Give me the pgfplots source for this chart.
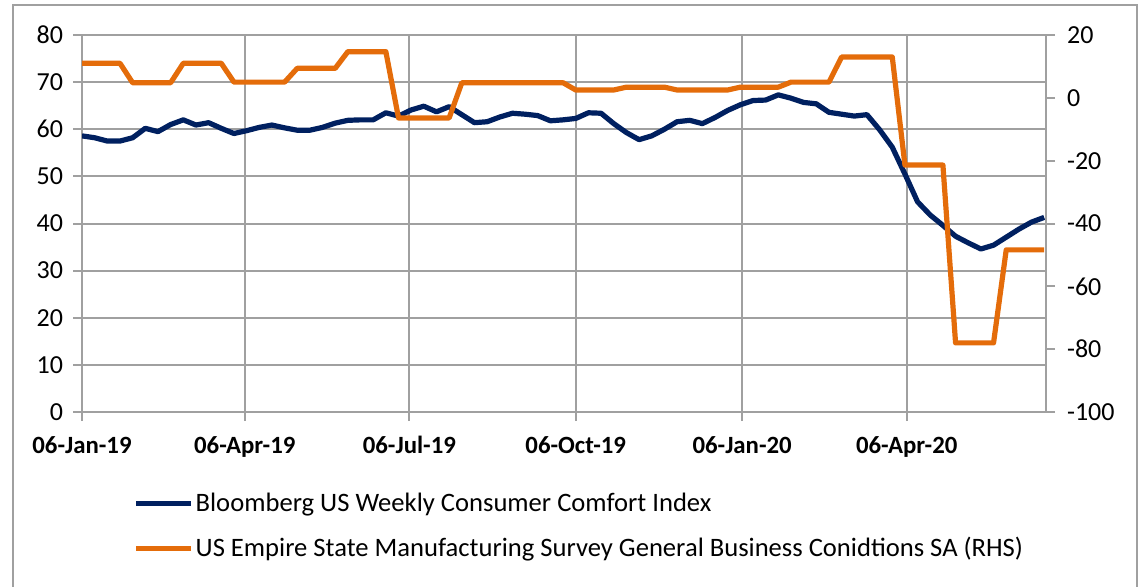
\documentclass[border=0pt]{standalone}
\usepackage{fontspec}
\setmainfont{Carlito}
\usepackage{pgfplots}
\usepackage{pgfplotstable}
\pgfplotsset{compat=1.18}

\definecolor{navy}{RGB}{0,32,96}
\definecolor{xlorange}{RGB}{228,108,10}
\definecolor{gridgray}{RGB}{160,160,160}

% weekly points from 06-Jan-19, x = week*7 days
\pgfplotstableread{
wk comfort empire
0 58.6 11.0
1 58.2 11.0
2 57.5 11.0
3 57.5 11.0
4 58.2 4.8
5 60.2 4.8
6 59.5 4.8
7 61.0 4.8
8 62.0 11.0
9 60.9 11.0
10 61.4 11.0
11 60.2 11.0
12 59.1 5.0
13 59.7 5.0
14 60.4 5.0
15 60.9 5.0
16 60.3 5.0
17 59.8 9.4
18 59.8 9.4
19 60.4 9.4
20 61.3 9.4
21 61.9 14.7
22 62.0 14.7
23 62.0 14.7
24 63.5 14.7
25 62.8 -6.4
26 64.1 -6.4
27 64.9 -6.4
28 63.7 -6.4
29 64.8 -6.4
30 63.1 4.8
31 61.4 4.8
32 61.6 4.8
33 62.6 4.8
34 63.4 4.8
35 63.2 4.8
36 62.9 4.8
37 61.8 4.8
38 62.0 4.8
39 62.3 2.5
40 63.5 2.5
41 63.4 2.5
42 61.2 2.5
43 59.3 3.4
44 57.8 3.4
45 58.6 3.4
46 60.0 3.4
47 61.6 2.5
48 61.9 2.5
49 61.2 2.5
50 62.5 2.5
51 64.0 2.5
52 65.2 3.4
53 66.1 3.4
54 66.2 3.4
55 67.3 3.4
56 66.6 5.0
57 65.7 5.0
58 65.4 5.0
59 63.6 5.0
60 63.2 13.0
61 62.8 13.0
62 63.1 13.0
63 59.9 13.0
64 56.2 13.0
65 50.5 -21.4
66 44.6 -21.4
67 41.8 -21.4
68 39.6 -21.4
69 37.3 -78.0
70 35.9 -78.0
71 34.6 -78.0
72 35.4 -78.0
73 37.1 -48.4
74 38.8 -48.4
75 40.3 -48.4
76 41.3 -48.4
}\data

\pgfplotsset{
  common/.style={
    scale only axis, width=482pt, height=188.5pt,
    xmin=0, xmax=533,
    axis line style={gridgray, line width=1pt},
    major tick style={gridgray, line width=1pt},
    tick align=outside, major tick length=4.5pt,
    ticklabel style={font=\fontsize{13}{15}\selectfont, text=black},
    /pgf/number format/assume math mode=true,
  }
}

\begin{document}
\begin{tikzpicture}
\useasboundingbox (-41pt,-87pt) rectangle (529pt,206pt);
\draw[gridgray, line width=1pt] (-34.5pt,-95pt) -- (-34.5pt,203.5pt) -- (527.5pt,203.5pt) -- (527.5pt,-95pt);

\begin{axis}[
    common,
    ymin=0, ymax=80,
    axis x line*=bottom, axis y line*=left,
    xtick={0,90,181,273,365,456},
    xticklabels={06-Jan-19,06-Apr-19,06-Jul-19,06-Oct-19,06-Jan-20,06-Apr-20},
    xticklabel style={font=\fontsize{12.4}{14}\selectfont\bfseries, yshift=-4pt},
    yticklabel style={xshift=-1.5pt},
    ytick={0,10,...,80},
    xmajorgrids, ymajorgrids,
    grid style={gridgray, line width=1pt},
]
\addplot[navy, line width=2.6pt, line join=round] table[x expr=\thisrow{wk}*7, y=comfort]{\data};
\end{axis}

\begin{axis}[
    common,
    ymin=-100, ymax=20,
    axis x line=none, axis y line*=right,
    ytick={-100,-80,...,20},
    yticklabel style={xshift=2.5pt},
    legend style={at={(axis description cs:0.053,-0.3037)}, anchor=west,
      draw=none, fill=none, inner sep=0pt, row sep=7.5pt,
      font=\fontsize{13.3}{15}\selectfont, cells={anchor=west},
      nodes={inner xsep=1pt}},
    legend image code/.code={\draw[#1] (-1.5pt,0pt) -- (26pt,0pt);},
]
\addlegendimage{navy, line width=2.6pt}
\addlegendentry{Bloomberg US Weekly Consumer Comfort Index}
\addplot[xlorange, line width=2.6pt, line join=round] table[x expr=\thisrow{wk}*7, y=empire]{\data};
\addlegendentry{US Empire State Manufacturing Survey General Business Conidtions SA (RHS)}
\end{axis}
\end{tikzpicture}
\end{document}
